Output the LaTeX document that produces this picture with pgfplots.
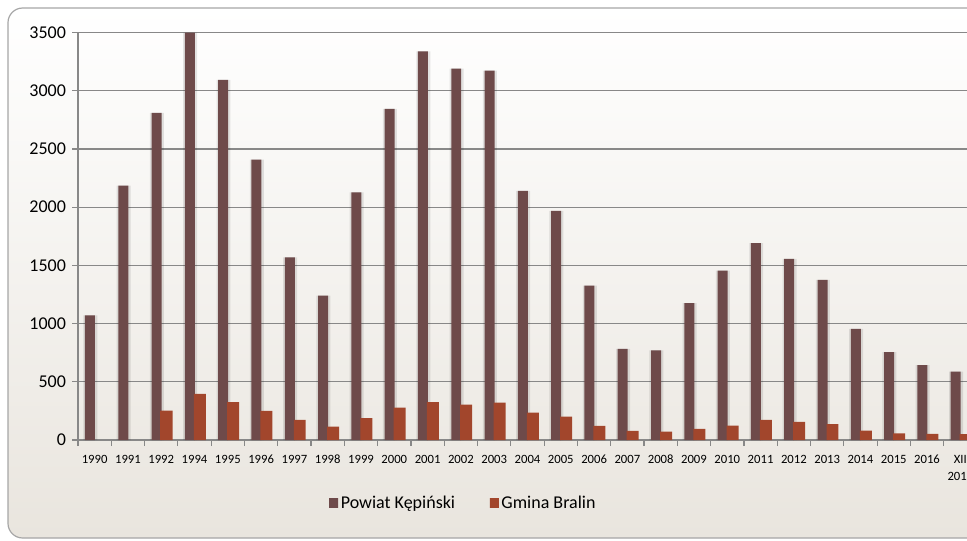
\documentclass[border=0pt]{standalone}
\usepackage{pgfplots}
\usepackage{pgfplotstable}
\pgfplotsset{compat=1.18}
\usepackage{fontspec}
\setmainfont{Carlito}

\definecolor{framegray}{HTML}{A6A6A6}
\definecolor{bgbot}{HTML}{E9E5DE}
\definecolor{gridgray}{HTML}{888888}
\definecolor{powiatmid}{HTML}{936767}
\definecolor{powiatedge}{HTML}{6E4A4A}
\definecolor{gminamid}{HTML}{D4421C}
\definecolor{gminaedge}{HTML}{A2462C}

% liczba bezrobotnych
\pgfplotstableread{
x powiat gmina
0  1070 nan
1  2185 nan
2  2810 253
3  3500 396
4  3095 325
5  2408 250
6  1568 173
7  1241 115
8  2127 187
9  2844 279
10 3339 325
11 3190 304
12 3173 321
13 2141 236
14 1969 201
15 1327 121
16 783  78
17 769  72
18 1176 95
19 1456 124
20 1692 173
21 1557 156
22 1376 136
23 955  81
24 755  58
25 643  52
26 588  50
}\bezrobocie

\begin{document}
\begin{tikzpicture}
\useasboundingbox (0,0) rectangle (725.25pt,-405pt);
\path[draw=framegray, line width=0.9pt, top color=white, bottom color=bgbot,
  rounded corners=11pt] (6pt,-6pt) rectangle (745pt,-403.5pt);

\begin{axis}[
  at={(58.5pt,-330pt)}, anchor=south west,
  scale only axis, width=674.25pt, height=305.55pt,
  xmin=-0.5, xmax=26.5, ymin=0, ymax=3500,
  axis x line*=bottom, axis y line*=left,
  axis line style={gridgray, line width=0.9pt},
  tick style={gridgray, line width=0.9pt},
  tick align=outside, major tick length=4.5pt, minor tick length=4.5pt,
  xtick={0,...,26},
  major x tick style={draw=none},
  minor xtick={-0.5,0.5,...,26.5},
  xticklabels={1990,1991,1992,1994,1995,1996,1997,1998,1999,2000,2001,2002,2003,2004,2005,2006,2007,2008,2009,2010,2011,2012,2013,2014,2015,2016,
    {\begin{tabular}[t]{@{}c@{}}XII\\2017\end{tabular}}},
  xticklabel style={anchor=base, font=\fontsize{9.5}{13}\selectfont, yshift=-13pt},
  ytick={0,500,...,3500},
  yticklabel style={font=\fontsize{13.5}{15}\selectfont, xshift=-1pt},
  /pgf/number format/assume math mode=true,
  /pgf/number format/1000 sep={},
  ymajorgrids, grid style={gridgray, line width=0.9pt},
  legend style={at={(0.429,-0.155)}, anchor=center, draw=none, fill=none,
    legend columns=2, font=\fontsize{13.5}{16}\selectfont,
    /tikz/every even column/.append style={column sep=24pt}},
]
\addplot[ybar, bar width=0.42, bar shift=-0.13, fill=black, opacity=0.10, draw=none, forget plot]
  table[x=x, y=powiat] {\bezrobocie};
\addplot[ybar, bar width=0.3, bar shift=-0.14, draw=none,
  left color=powiatedge, middle color=powiatmid, right color=powiatedge,
  legend image code/.code={\path[left color=powiatedge, middle color=powiatmid, right color=powiatedge] (0pt,-3.4pt) rectangle (6.75pt,3.4pt);}]
  table[x=x, y=powiat] {\bezrobocie};
\addlegendentry{Powiat Kępiński}
\addplot[ybar, bar width=0.36, bar shift=0.16, draw=none,
  left color=gminaedge, middle color=gminamid, right color=gminaedge,
  legend image code/.code={\path[left color=gminaedge, middle color=gminamid, right color=gminaedge] (0pt,-3.4pt) rectangle (6.75pt,3.4pt);}]
  table[x=x, y=gmina] {\bezrobocie};
\addlegendentry{Gmina Bralin}
\end{axis}
\end{tikzpicture}
\end{document}
